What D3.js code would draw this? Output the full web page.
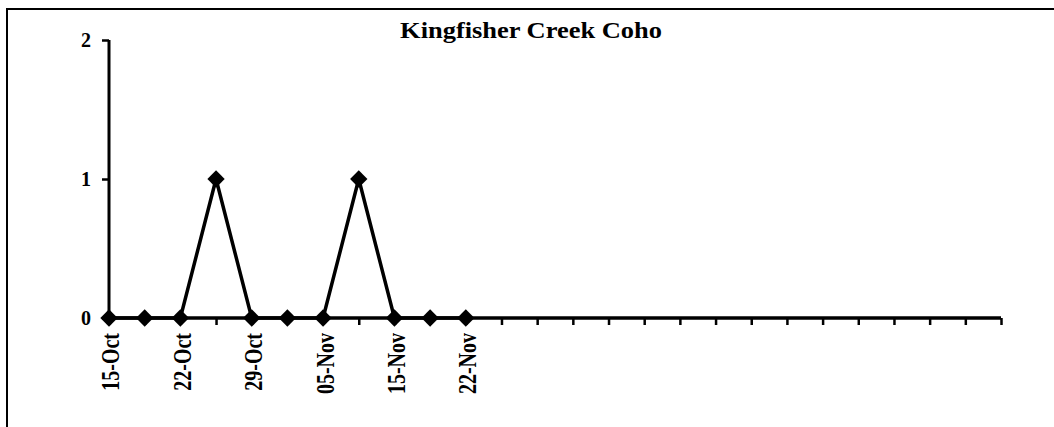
<!DOCTYPE html>
<html>
<head>
<meta charset="utf-8">
<script src="https://cdn.jsdelivr.net/npm/d3@7"></script>
<style>
  html, body { margin: 0; padding: 0; background: #fff; }
  svg { display: block; }
  text { font-family: "Liberation Serif", "Times New Roman", serif; font-weight: bold; fill: #000; }
</style>
</head>
<body>
<svg id="chart" width="1054" height="427"></svg>
<script>
// Sampling dates along the category axis (blank slots are unlabeled survey days)
const categories = [
  "15-Oct", "", "22-Oct", "", "29-Oct", "", "05-Nov", "", "15-Nov", "", "22-Nov",
  "", "", "", "", "", "", "", "", "", "", "", "", "", "", ""
];
// Coho counts for the surveyed days
const cohoCounts = [0, 0, 0, 1, 0, 0, 0, 1, 0, 0, 0];
const yTicks = [0, 1, 2];
const chartTitle = "Kingfisher Creek Coho";

const svg = d3.select("#chart");
const W = 1054, H = 427;
const plot = { left: 109, right: 1001, top: 40, bottom: 318 };

// Outer frame (top and left edges)
svg.append("path")
  .attr("d", `M7,${H} L7,9 L${W},9`)
  .attr("fill", "none")
  .attr("stroke", "#000")
  .attr("stroke-width", 2);

const x = d3.scalePoint()
  .domain(d3.range(categories.length))
  .range([plot.left, plot.right]);

const y = d3.scaleLinear()
  .domain([0, 2])
  .range([plot.bottom, plot.top]);

// Y axis
const yAxis = svg.append("g")
  .attr("transform", `translate(${plot.left},0)`)
  .call(d3.axisLeft(y).tickValues(yTicks).tickFormat(d3.format("d")).tickSize(7).tickPadding(11));
yAxis.select(".domain").attr("stroke-width", 3).attr("d", `M0,${plot.top}V${plot.bottom}`);
yAxis.selectAll(".tick line").attr("stroke-width", 2.5);
yAxis.selectAll(".tick text")
  .style("font-size", "20px")
  .attr("dy", "0.33em");

// X axis
const xAxis = svg.append("g")
  .attr("transform", `translate(0,${plot.bottom})`)
  .call(d3.axisBottom(x).tickFormat(i => categories[i]).tickSize(7).tickPadding(0));
xAxis.select(".domain").attr("stroke-width", 3.5).attr("d", `M${plot.left},0H${plot.right}`);
xAxis.selectAll(".tick line").attr("stroke-width", 2.5);
xAxis.selectAll(".tick text")
  .style("font-size", "20px")
  .attr("text-anchor", "end")
  .attr("dy", null)
  .attr("transform", "translate(1,15) rotate(-90) scale(1,1.3)")
  .attr("y", 0)
  .attr("x", 0)
  .attr("dominant-baseline", "central");

// Series line
const points = cohoCounts.map((v, i) => [x(i), y(v)]);
svg.append("path")
  .datum(points)
  .attr("fill", "none")
  .attr("stroke", "#000")
  .attr("stroke-width", 3.5)
  .attr("stroke-linejoin", "miter")
  .attr("d", d3.line());

// Diamond markers
const diamond = d3.symbol().type(d3.symbolSquare).size(150);
svg.append("g")
  .selectAll("path")
  .data(cohoCounts)
  .join("path")
  .attr("d", diamond)
  .attr("transform", (d, i) => `translate(${x(i)},${y(d)}) rotate(45)`)
  .attr("fill", "#000");

// Title
svg.append("text")
  .attr("transform", "translate(531,38) scale(1.15,1)")
  .attr("text-anchor", "middle")
  .style("font-size", "23px")
  .text(chartTitle);
</script>
</body>
</html>
